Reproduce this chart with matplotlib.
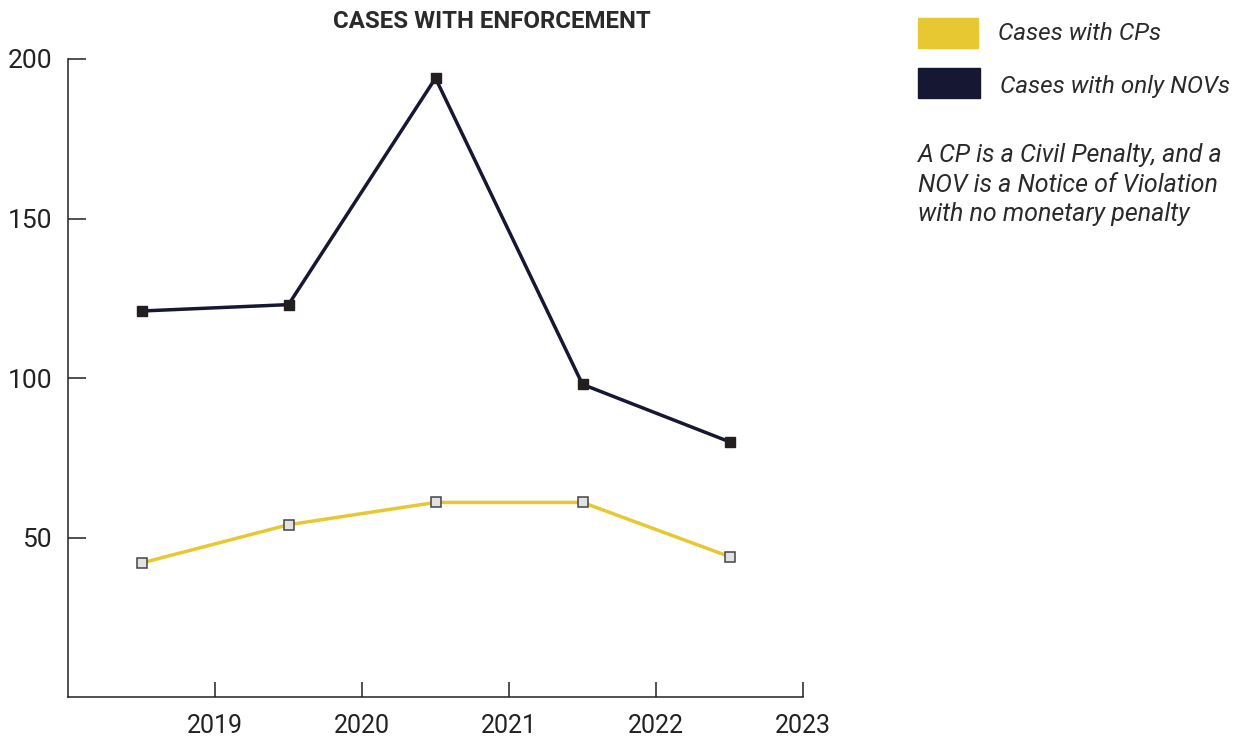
import numpy as np
import matplotlib.pyplot as plt
from matplotlib.patches import Rectangle

# enforcement counts by fiscal year (points sit mid-year)
years = [2018.5, 2019.5, 2020.5, 2021.5, 2022.5]
cases_cp = [42, 54, 61, 61, 44]
cases_nov = [121, 123, 194, 98, 80]
xtick_years = [2019, 2020, 2021, 2022, 2023]
yticks = [50, 100, 150, 200]

YELLOW = '#E8C832'
NAVY = '#161833'
MARK = '#231F20'

plt.rcParams['font.family'] = ['Roboto', 'DejaVu Sans']

fig = plt.figure(figsize=(12.4, 7.42), dpi=100)
ax = fig.add_axes([68/1240, 1-697/742, (803-68)/1240, (697-59)/742])

ax.plot(years, cases_nov, color=NAVY, lw=2.5, marker='s', ms=7,
        mfc=MARK, mec=MARK, zorder=3)
ax.plot(years, cases_cp, color=YELLOW, lw=2.5, marker='s', ms=7,
        mfc='#E2E2E2', mec='#444444', mew=1.1, zorder=3)

ax.set_xlim(2018, 2023)
ax.set_ylim(0, 200)
ax.set_xticks(xtick_years)
ax.set_yticks(yticks)
ax.tick_params(axis='y', direction='in', length=13, width=1.1, pad=11.5,
               labelsize=19, colors='#222222')
ax.tick_params(axis='x', direction='in', length=11, width=1.1, pad=12,
               labelsize=18, colors='#222222')
for s in ['top', 'right']:
    ax.spines[s].set_visible(False)
for s in ['left', 'bottom']:
    ax.spines[s].set_linewidth(1.1)
    ax.spines[s].set_color('#222222')

fig.text(492/1240, 1-22/742, 'CASES WITH ENFORCEMENT', ha='center', va='center',
         fontsize=17.3, fontweight='bold', color='#2a2a2a')

# legend drawn by hand at the right side
fig.patches.append(Rectangle((918/1240, 1-48/742), 60/1240, 30/742,
                             transform=fig.transFigure, color=YELLOW))
fig.patches.append(Rectangle((918/1240, 1-98/742), 62/1240, 30/742,
                             transform=fig.transFigure, color=NAVY))
fig.text(998/1240, 1-33/742, 'Cases with CPs', ha='left', va='center',
         fontsize=17.5, style='italic', color='#2a2a2a')
fig.text(1000/1240, 1-87/742, 'Cases with only NOVs', ha='left', va='center',
         fontsize=17.5, style='italic', color='#2a2a2a')
fig.text(918/1240, 1-143/742,
         'A CP is a Civil Penalty, and a\nNOV is a Notice of Violation\nwith no monetary penalty',
         ha='left', va='top', fontsize=18, style='italic', color='#2a2a2a',
         linespacing=1.3)

fig.savefig('out.png', dpi=100)
